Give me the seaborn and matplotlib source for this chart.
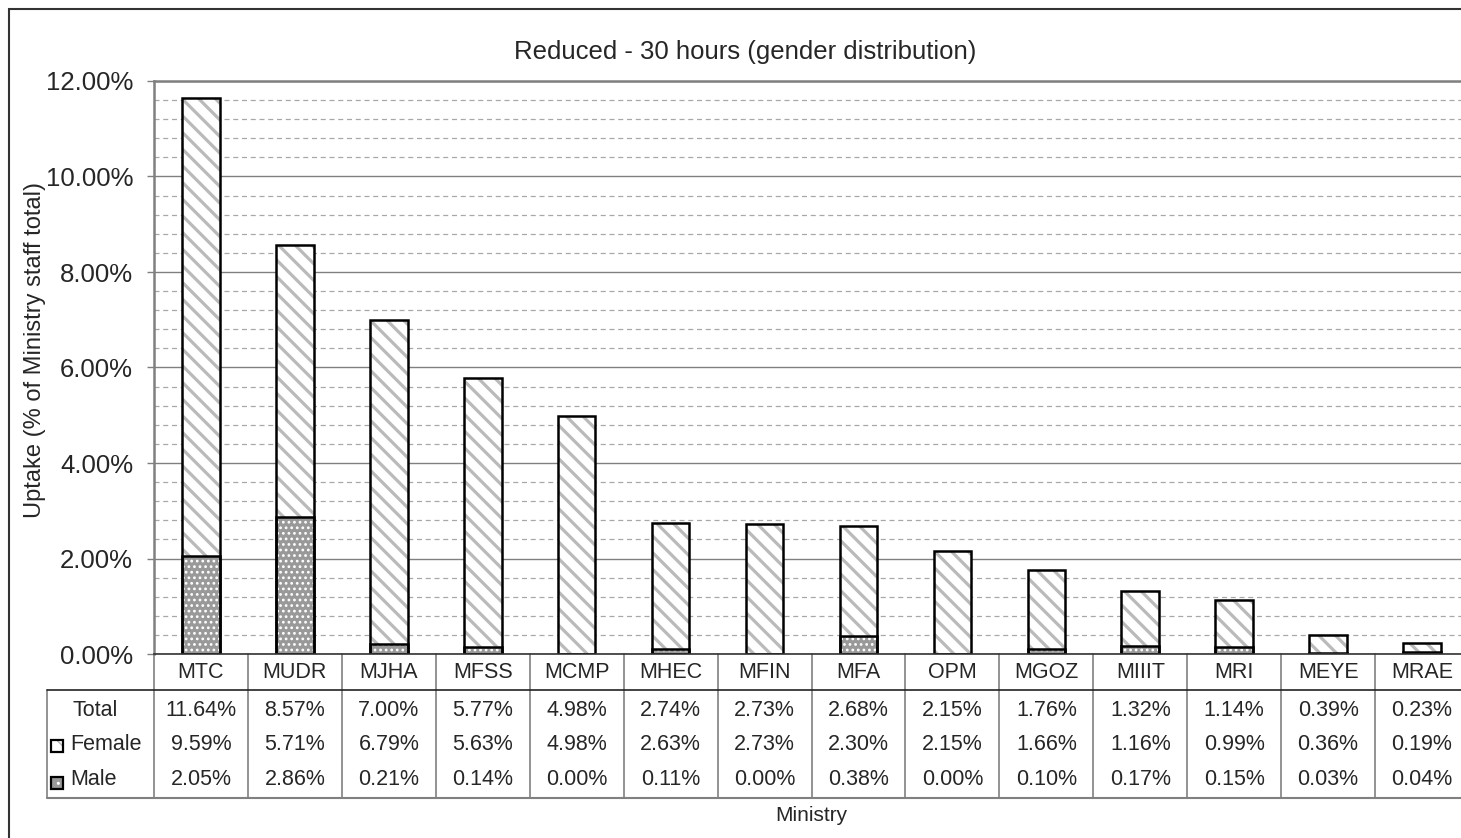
import matplotlib
matplotlib.use('Agg')
import matplotlib.pyplot as plt
import seaborn as sns
from matplotlib.patches import Rectangle
from matplotlib.ticker import MultipleLocator, FuncFormatter
from matplotlib.transforms import blended_transform_factory

ministries = ['MTC', 'MUDR', 'MJHA', 'MFSS', 'MCMP', 'MHEC', 'MFIN', 'MFA',
              'OPM', 'MGOZ', 'MIIIT', 'MRI', 'MEYE', 'MRAE']
total = [11.64, 8.57, 7.00, 5.77, 4.98, 2.74, 2.73, 2.68, 2.15, 1.76, 1.32, 1.14, 0.39, 0.23]
female = [9.59, 5.71, 6.79, 5.63, 4.98, 2.63, 2.73, 2.30, 2.15, 1.66, 1.16, 0.99, 0.36, 0.19]
male = [2.05, 2.86, 0.21, 0.14, 0.00, 0.11, 0.00, 0.38, 0.00, 0.10, 0.17, 0.15, 0.03, 0.04]

sns.set_style('white')
plt.rcParams['font.family'] = ['Liberation Sans', 'DejaVu Sans']

W, H = 1461, 838
fig = plt.figure(figsize=(W / 100, H / 100), dpi=100)
# plot area in pixels: left 154, right ~1469 (runs past the edge), top 81, bottom 654
ax = fig.add_axes([154 / W, 1 - 654 / H, (1469 - 154) / W, (654 - 81) / H])

bw = 0.4
# female part (whole bar, hatched), male drawn over the bottom
with plt.rc_context({'hatch.linewidth': 2.3}):
    sns.barplot(x=ministries, y=total, color='white', saturation=1, width=bw,
                hatch='\\\\', edgecolor='#bababa', linewidth=0, errorbar=None, ax=ax)
n0 = len(ax.patches)
with plt.rc_context({'hatch.linewidth': 1.2}):
    sns.barplot(x=ministries, y=male, color='#999999', saturation=1, width=bw,
                hatch='...', edgecolor='white', linewidth=0, errorbar=None, ax=ax)
for p in ax.patches[:n0]:
    if hasattr(p, 'set_hatch_linewidth'):
        p.set_hatch_linewidth(2.3)
for p in ax.patches[n0:]:
    if hasattr(p, 'set_hatch_linewidth'):
        p.set_hatch_linewidth(1.2)
sns.barplot(x=ministries, y=total, color='black', fill=False, width=bw,
            linewidth=1.8, errorbar=None, ax=ax)
sns.barplot(x=ministries, y=male, color='black', fill=False, width=bw,
            linewidth=1.8, errorbar=None, ax=ax)

ax.set_xlim(-0.5, len(ministries) - 0.5)
ax.set_ylim(0, 12)
ax.yaxis.set_major_locator(MultipleLocator(2))
ax.yaxis.set_minor_locator(MultipleLocator(0.4))
ax.yaxis.set_major_formatter(FuncFormatter(lambda v, _: '{:.2f}%'.format(v)))
ax.grid(axis='y', which='major', color='#808080', lw=1.0)
ax.grid(axis='y', which='minor', color='#a8a8a8', lw=0.9, ls=(0, (4, 3)))
ax.set_axisbelow(True)
ax.tick_params(axis='y', which='major', length=5, width=1, color='#808080',
               pad=10, labelsize=18.5, left=True)
ax.tick_params(axis='y', which='minor', length=0)
ax.tick_params(axis='x', length=0, pad=13, labelsize=15.5)
for lab in ax.get_xticklabels():
    lab.set_va('center')
ax.set_xlabel('')
for s in ['left', 'top']:
    ax.spines[s].set_color('#808080')
    ax.spines[s].set_linewidth(1.8)
ax.spines['right'].set_visible(False)
ax.spines['bottom'].set_color('#333333')
ax.spines['bottom'].set_linewidth(1.2)

ax.set_title('Reduced - 30 hours (gender distribution)', fontsize=18.5,
             x=(745 - 154) / (1469 - 154), y=(654 - 60) / 573, va='center')
ax.set_ylabel('Uptake (% of Ministry staff total)', fontsize=17, va='center')
ax.yaxis.set_label_coords((35 - 154) / (1469 - 154), (654 - 350) / 573)

# data table under the plot
tr = blended_transform_factory(ax.transData, ax.transAxes)
ph = 573.0
def yax(py):
    return (654 - py) / ph

xl = -0.5 - 107 / 94.0
grey = '#808080'
for i in range(len(ministries) + 1):
    ax.plot([i - 0.5, i - 0.5], [0, yax(798)], color=grey, lw=1.2,
            transform=tr, clip_on=False)
ax.plot([xl, xl], [yax(690), yax(798)], color=grey, lw=1.2, transform=tr, clip_on=False)
ax.plot([xl, 13.5], [yax(690), yax(690)], color='#222222', lw=1.2, transform=tr, clip_on=False)
ax.plot([xl, 13.5], [yax(798), yax(798)], color=grey, lw=1.5, transform=tr, clip_on=False)

rows = [total, female, male]
row_y = [710, 744, 779]
for vals, py in zip(rows, row_y):
    for i, v in enumerate(vals):
        ax.text(i, yax(py), '{:.2f}%'.format(v), ha='center', va='center',
                fontsize=15.5, transform=tr)

ax.text(-0.5 - 59 / 94.0, yax(710), 'Total', ha='center', va='center', fontsize=15.5, transform=tr)
ax.text(-0.5 - 84 / 94.0, yax(744), 'Female', ha='left', va='center', fontsize=15.5, transform=tr)
ax.text(-0.5 - 84 / 94.0, yax(779), 'Male', ha='left', va='center', fontsize=15.5, transform=tr)

kx = -0.5 - 103 / 94.0
kw = 12 / 94.0
kh = 12 / ph
fk = Rectangle((kx, yax(752)), kw, kh, transform=tr, clip_on=False,
               facecolor='white', edgecolor='#b5b5b5', hatch='\\\\', lw=0)
mk = Rectangle((kx, yax(789)), kw, kh, transform=tr, clip_on=False,
               facecolor='#999999', edgecolor='white', hatch='..', lw=0)
ax.add_patch(fk)
ax.add_patch(mk)
for py in (752, 789):
    ax.add_patch(Rectangle((kx, yax(py)), kw, kh, transform=tr, clip_on=False,
                           fill=False, edgecolor='black', lw=1.6))

ax.text(0.5, yax(815), 'Ministry', ha='center', va='center', fontsize=15,
        transform=ax.transAxes)

# outer chart border
fig.patches.append(Rectangle((9 / W, -0.05), 1.1, 1 - 9 / H + 0.05, transform=fig.transFigure,
                             fill=False, edgecolor='#333333', lw=1.5))

fig.savefig('out.png', dpi=100)
